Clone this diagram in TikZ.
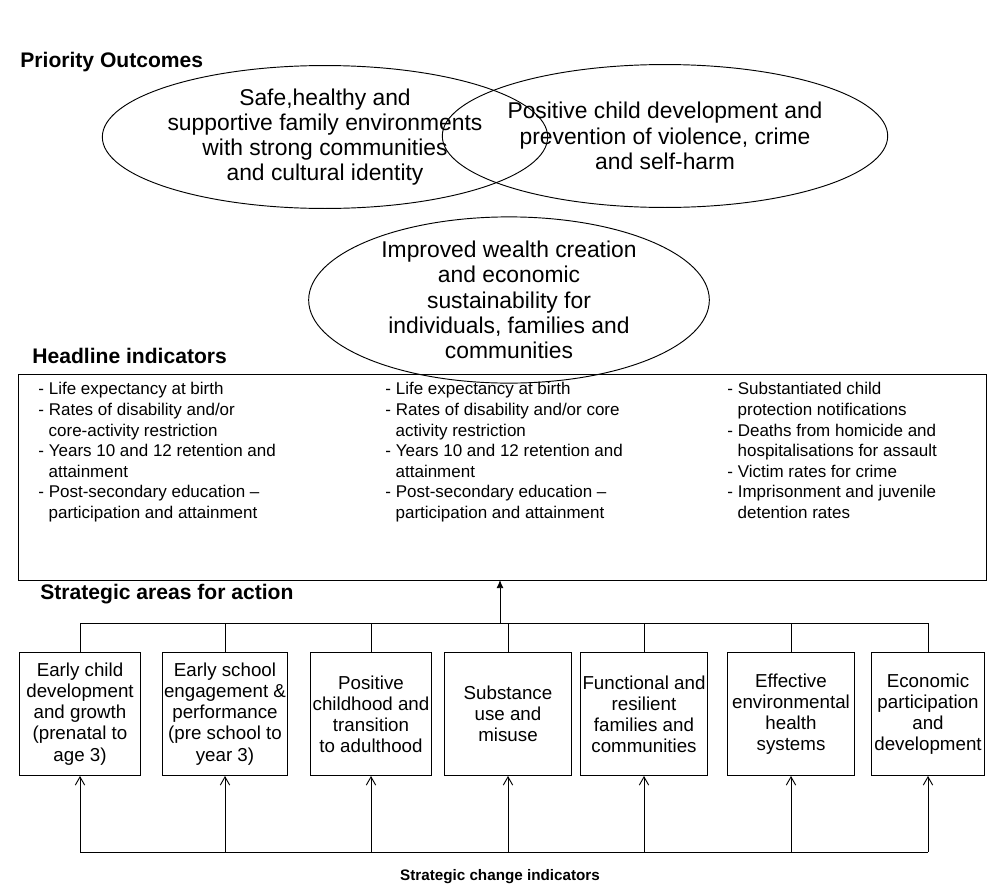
\documentclass[tikz,border=0pt]{standalone}
\usepackage{fontspec}
\setmainfont{Liberation Sans}
\usetikzlibrary{positioning,arrows.meta,shapes.geometric}

\tikzset{
  outcome/.style={draw,ellipse,minimum width=303pt,minimum height=122pt,inner sep=0pt,align=center,font=\fontsize{19.5}{21.5}\selectfont},
  title/.style={anchor=west,font=\fontsize{18}{20}\selectfont\bfseries},
  area/.style={draw,anchor=north,minimum height=105pt,inner sep=1pt,align=center,font=\fontsize{16}{18}\selectfont},
  column/.style={anchor=north west,align=left,inner sep=0pt,font=\fontsize{14.5}{17.6}\selectfont}
}

\begin{document}
\begin{tikzpicture}[x=0.03cm,y=-0.03cm,line width=0.8pt]
  \useasboundingbox (0,0) rectangle (1000,894);
  % priority outcomes
  \node[title] (prio) at (16,62) {Priority Outcomes};
  \node[outcome] (safe) at (325,137) {Safe,healthy and\\supportive family environments\\with strong communities\\and cultural identity};
  \node[outcome] (develop) at (665,136) {Positive child development and\\prevention of violence, crime\\and self-harm};
  \node[outcome,minimum width=342pt,minimum height=116pt] (wealth) at (509,300) {Improved wealth creation\\and economic\\sustainability for\\individuals, families and\\communities};
  % headline indicators
  \node[title] (headtitle) at (28,356) {Headline indicators};
  \draw (18,374) rectangle (986,580);
  \coordinate (hbottom) at (500,580);
  \node[column] (col1) at (38,382) {- Life expectancy at birth\\- Rates of disability and/or\\\hspace{0.6em}core-activity restriction\\- Years 10 and 12 retention and\\\hspace{0.6em}attainment\\- Post-secondary education --\\\hspace{0.6em}participation and attainment};
  \node[column] (col2) at (385,382) {- Life expectancy at birth\\- Rates of disability and/or core\\\hspace{0.6em}activity restriction\\- Years 10 and 12 retention and\\\hspace{0.6em}attainment\\- Post-secondary education --\\\hspace{0.6em}participation and attainment};
  \node[column] (col3) at (727,382) {- Substantiated child\\\hspace{0.6em}protection notifications\\- Deaths from homicide and\\\hspace{0.6em}hospitalisations for assault\\- Victim rates for crime\\- Imprisonment and juvenile\\\hspace{0.6em}detention rates};
  % strategic areas
  \node[title] (areatitle) at (36,594) {Strategic areas for action};
  \coordinate (hub) at (500,623);
  \draw[-{Latex[length=7pt,width=6pt]}] (hub) -- (hbottom);
  \foreach \x/\w/\name/\txt in {
    80/121/a1/{Early child\\development\\and growth\\(prenatal to\\age 3)},
    225/123/a2/{Early school\\engagement \&\\performance\\(pre school to\\year 3)},
    371/122/a3/{Positive\\childhood and\\transition\\to adulthood},
    508/128/a4/{Substance\\use and\\misuse},
    644/127/a5/{Functional and\\resilient\\families and\\communities},
    791/127/a6/{Effective\\environmental\\health\\systems},
    928/113/a7/{Economic\\participation\\and\\development}} {
    \node[area,minimum width=0.85*\w] (\name) at (\x,652) {\txt};
    \draw (\x,623) -- (\name.north);
    \draw[-{Straight Barb[length=7pt,width=8pt]}] (\x,852) -- (\name.south);
  }
  \draw (a1.north |- hub) -- (a7.north |- hub);
  \draw (a1.south |- 0,852) -- (a7.south |- 0,852);
  \node[font=\fontsize{13}{15}\selectfont\bfseries] (changetitle) at (500,877) {Strategic change indicators};
\end{tikzpicture}
\end{document}
